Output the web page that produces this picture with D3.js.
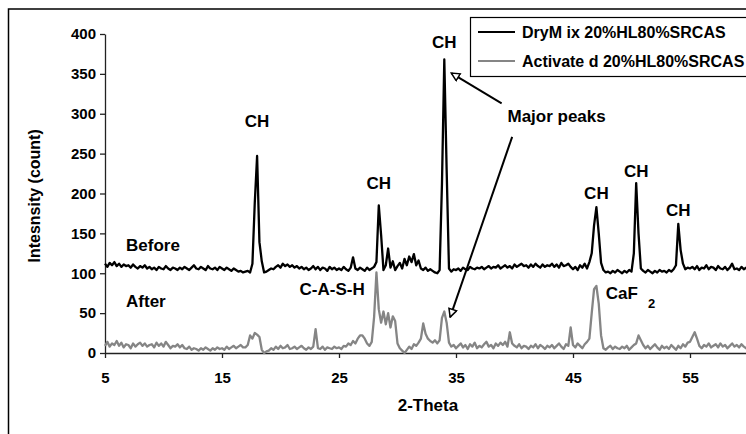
<!DOCTYPE html>
<html>
<head>
<meta charset="utf-8">
<script src="https://cdn.jsdelivr.net/npm/d3@7"></script>
<style>
  body { margin: 0; background: #fff; }
  text { font-family: "Liberation Sans", Arial, sans-serif; font-weight: bold; }
</style>
</head>
<body>
<div id="chart"></div>
<script>
// scan grid: 5 to 60 deg, 0.2 deg step (one row below = 2 deg)
var thetaStart = 5;
var thetaStep = 0.2;

// DryMix 20%HL80%SRCAS (before)
var beforeCounts = [
  112,108,113,110,114,109,112,108,111,109, // 5
  110,107,111,108,106,109,107,110,106,108, // 7
  105,107,104,108,106,105,109,106,104,107, // 9
  106,104,107,105,108,106,104,107,110,106, // 11
  105,108,106,104,109,106,105,107,104,108, // 13
  106,104,107,105,103,106,104,102,103,101, // 15
  102,103,101,112,188,247,139,115,101,102, // 17
  104,106,105,108,110,107,112,109,111,108, // 19
  110,107,109,106,108,105,107,104,106,109, // 21
  105,108,104,107,106,103,108,105,107,104, // 23
  106,104,108,105,103,107,120,106,104,107, // 25
  105,103,107,104,106,108,114,185,148,104, // 27
  110,131,107,115,104,109,113,106,118,110, // 29
  121,114,124,110,116,106,104,107,103,105, // 31
  103,101,100,104,212,368,230,106,102,105, // 33
  104,106,103,107,105,104,108,106,105,107, // 35
  106,108,105,107,109,106,108,107,110,106, // 37
  108,110,107,109,106,111,108,110,112,109, // 39
  110,107,111,108,112,109,107,111,108,110, // 41
  109,112,108,111,107,113,109,110,112,108, // 43
  105,108,104,110,107,112,106,114,125,160, // 45
  183,150,113,104,101,102,100,103,101,104, // 47
  102,100,103,101,104,102,125,213,150,106, // 49
  103,101,104,102,100,103,101,104,102,103, // 51
  101,104,102,105,110,162,129,112,105,107, // 53
  106,108,105,109,104,107,106,110,105,108, // 55
  107,104,109,106,105,108,104,107,112,105, // 57
  106,104,108,105,107,104                  // 59
];

// Activated 20%HL80%SRCAS (after)
var afterCounts = [
  9,14,8,12,10,15,9,13,7,11,      // 5
  10,6,12,8,11,13,9,12,8,10,      // 7
  11,7,13,9,12,8,14,10,6,9,       // 9
  8,11,7,10,6,5,8,4,6,5,          // 11
  3,6,4,7,5,3,6,4,7,5,            // 13
  6,4,8,5,7,9,6,8,10,7,           // 15
  7,10,22,18,25,23,20,4,0,2,      // 17
  3,6,4,8,5,9,6,7,10,5,           // 19
  6,8,5,7,9,6,4,7,5,8,            // 21
  30,6,5,8,4,7,6,5,8,6,           // 23
  7,5,9,8,12,10,15,12,18,22,      // 25
  22,18,12,9,14,45,101,55,38,52,  // 27
  36,50,32,46,40,12,6,3,0,4,      // 29
  8,5,11,9,13,18,37,24,18,15,     // 31
  13,16,12,16,44,52,38,13,8,10,   // 33
  6,9,12,7,10,5,11,8,13,6,        // 35
  9,7,11,14,8,10,6,12,9,13,       // 37
  10,14,8,26,12,9,7,11,6,9,       // 39
  8,5,9,7,11,6,10,8,5,9,          // 41
  7,10,6,9,12,8,5,11,9,32,        // 43
  10,7,12,9,6,11,14,18,50,80,     // 45
  84,62,22,6,4,7,9,5,8,6,         // 47
  5,8,6,9,4,7,10,12,22,16,        // 49
  10,6,9,5,8,11,7,4,9,6,          // 51
  8,5,10,7,4,9,6,11,8,13,         // 53
  14,20,26,18,9,6,10,8,12,7,      // 55
  9,11,7,12,8,10,6,9,12,8,        // 57
  10,7,11,8,6,9                   // 59
];

var xTicks = [5, 15, 25, 35, 45, 55];
var yTicks = [0, 50, 100, 150, 200, 250, 300, 350, 400];
var seriesNames = ["DryM ix 20%HL80%SRCAS", "Activate d 20%HL80%SRCAS"];
var seriesColors = ["#000000", "#858585"];

// peak labels [2-theta, count, text]
var peakLabels = [
  [18.0, 290, "CH"],
  [28.4, 213, "CH"],
  [34.0, 389, "CH"],
  [47.0, 200, "CH"],
  [50.4, 227, "CH"],
  [54.0, 179, "CH"]
];

var svgWidth = 746;
var svgHeight = 434;
var margin = { top: 34, left: 105 };
var plotW = 643.5;
var plotH = 319;

var svg = d3.select("#chart")
  .append("svg")
  .attr("width", svgWidth)
  .attr("height", svgHeight);

// outer chart frame (right and bottom are cut off)
svg.append("rect")
  .attr("x", 8.5)
  .attr("y", 9)
  .attr("width", 760)
  .attr("height", 460)
  .attr("fill", "none")
  .attr("stroke", "#000")
  .attr("stroke-width", 1.5);

var chartGroup = svg.append("g")
  .attr("transform", `translate(${margin.left}, ${margin.top})`);

var xScale = d3.scaleLinear().domain([5, 60]).range([0, plotW]);
var yScale = d3.scaleLinear().domain([0, 400]).range([plotH, 0]);

// axes
var xAxis = d3.axisBottom(xScale).tickValues(xTicks).tickSize(5).tickSizeOuter(0);
var yAxis = d3.axisLeft(yScale).tickValues(yTicks).tickSize(5).tickSizeOuter(0);

var xg = chartGroup.append("g")
  .attr("transform", `translate(0, ${plotH})`)
  .call(xAxis);
var yg = chartGroup.append("g").call(yAxis);

[xg, yg].forEach(function(g) {
  g.select(".domain").attr("stroke", "#222").attr("stroke-width", 1.3);
  g.selectAll(".tick line").attr("stroke", "#222").attr("stroke-width", 1.3);
  g.selectAll(".tick text")
    .attr("fill", "#000")
    .style("font-size", "15px")
    .style("font-family", "'Liberation Sans', Arial, sans-serif")
    .style("font-weight", "bold");
});
xg.selectAll(".tick text").attr("dy", "1.45em");
yg.selectAll(".tick text").attr("x", -9);

// series lines
var line = d3.line()
  .x(function(d, i) { return xScale(thetaStart + thetaStep * i); })
  .y(function(d) { return yScale(d); });

[afterCounts, beforeCounts].forEach(function(series, k) {
  chartGroup.append("path")
    .datum(series)
    .attr("d", line)
    .attr("fill", "none")
    .attr("stroke", seriesColors[1 - k])
    .attr("stroke-width", 2.3)
    .attr("stroke-linejoin", "round");
});

// axis titles
chartGroup.append("text")
  .attr("x", xScale(32.6))
  .attr("y", plotH + 58)
  .attr("text-anchor", "middle")
  .style("font-size", "17px")
  .text("2-Theta");

chartGroup.append("text")
  .attr("transform", "rotate(-90)")
  .attr("x", -yScale(197))
  .attr("y", -65)
  .attr("text-anchor", "middle")
  .style("font-size", "16px")
  .text("Intesnsity (count)");

// peak labels
chartGroup.selectAll(".peak")
  .data(peakLabels)
  .enter()
  .append("text")
  .attr("class", "peak")
  .attr("x", d => xScale(d[0]))
  .attr("y", d => yScale(d[1]))
  .attr("text-anchor", "middle")
  .attr("dominant-baseline", "central")
  .style("font-size", "17px")
  .text(d => d[2]);

// other annotations
function note(x, y, txt, anchor) {
  return chartGroup.append("text")
    .attr("x", xScale(x))
    .attr("y", yScale(y))
    .attr("text-anchor", anchor || "start")
    .attr("dominant-baseline", "central")
    .style("font-size", "17px")
    .text(txt);
}
note(6.8, 135, "Before");
note(6.8, 64, "After");
note(27.2, 79, "C-A-S-H", "end");
note(47.8, 75, "CaF");
chartGroup.append("text")
  .attr("x", xScale(51.4))
  .attr("y", yScale(62))
  .attr("dominant-baseline", "central")
  .style("font-size", "13px")
  .text("2");
note(39.4, 296, "Major peaks");

// arrows with open heads
svg.append("defs").append("marker")
  .attr("id", "head")
  .attr("viewBox", "0 0 10 10")
  .attr("refX", 9)
  .attr("refY", 5)
  .attr("markerWidth", 5)
  .attr("markerHeight", 5)
  .attr("orient", "auto")
  .append("path")
  .attr("d", "M1,1 L9,5 L1,9 Z")
  .attr("fill", "#fff")
  .attr("stroke", "#000")
  .attr("stroke-width", 1.5);

var arrows = [
  [[38.9, 313], [34.6, 351]],
  [[39.8, 271], [34.5, 45]]
];
arrows.forEach(function(a) {
  chartGroup.append("line")
    .attr("x1", xScale(a[0][0]))
    .attr("y1", yScale(a[0][1]))
    .attr("x2", xScale(a[1][0]))
    .attr("y2", yScale(a[1][1]))
    .attr("stroke", "#000")
    .attr("stroke-width", 2)
    .attr("marker-end", "url(#head)");
});

// legend
var legend = svg.append("g").attr("transform", "translate(470, 17)");
legend.append("rect")
  .attr("x", 0.5)
  .attr("y", 0.5)
  .attr("width", 300)
  .attr("height", 59)
  .attr("fill", "#fff")
  .attr("stroke", "#000")
  .attr("stroke-width", 1.2);

seriesNames.forEach(function(name, i) {
  var ly = 15 + i * 29;
  legend.append("line")
    .attr("x1", 8)
    .attr("x2", 45)
    .attr("y1", ly)
    .attr("y2", ly)
    .attr("stroke", seriesColors[i])
    .attr("stroke-width", 2.2);
  legend.append("text")
    .attr("x", 52)
    .attr("y", ly)
    .attr("dominant-baseline", "central")
    .style("font-size", "16px")
    .text(name);
});
</script>
</body>
</html>
